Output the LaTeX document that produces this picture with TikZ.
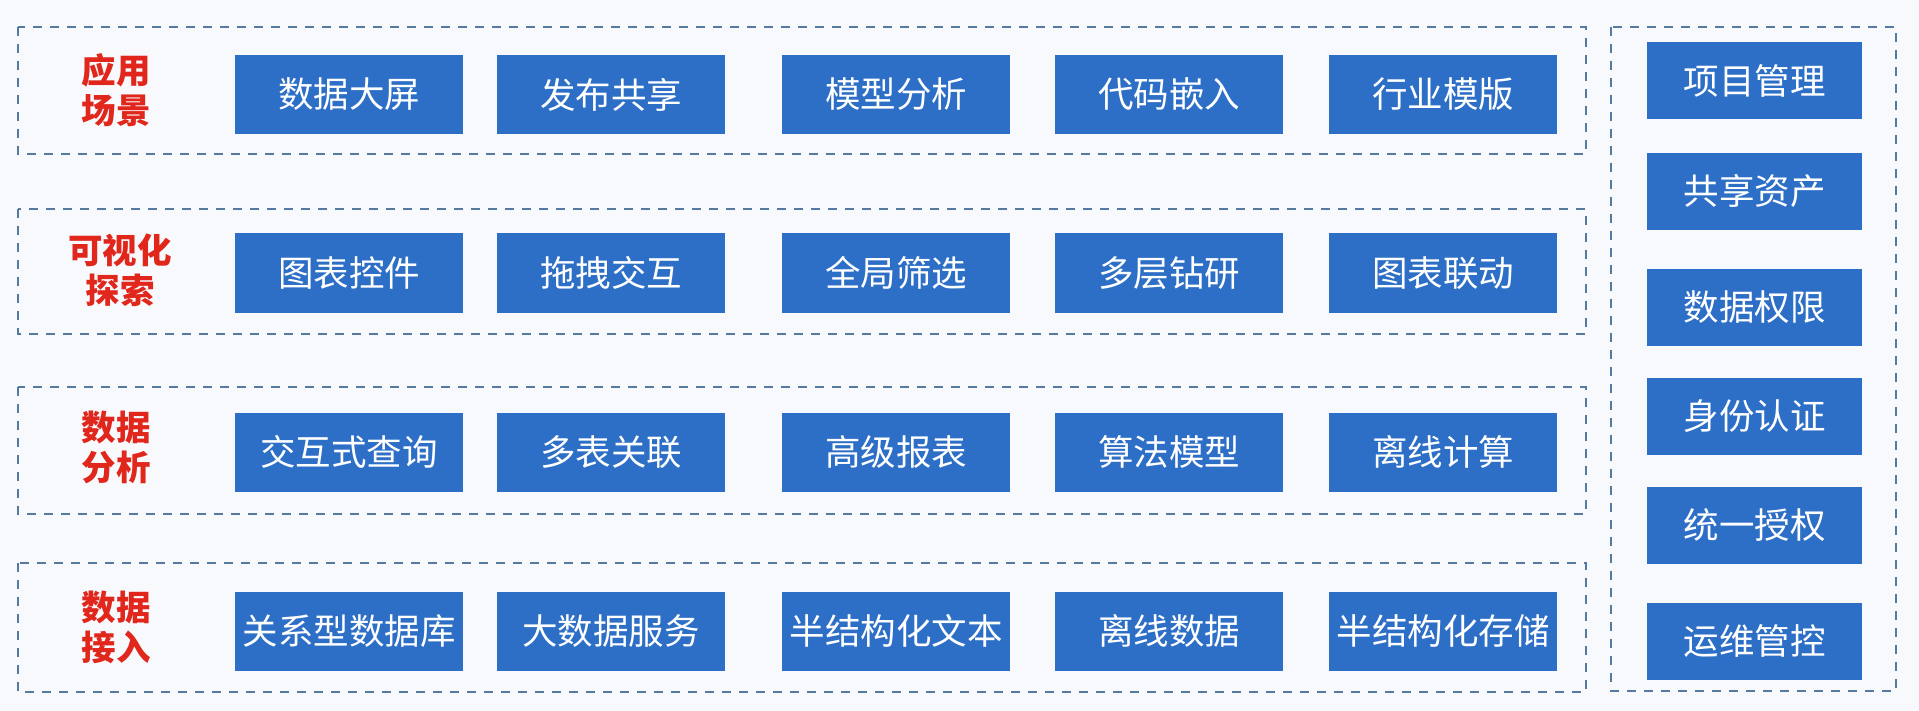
\documentclass[tikz,border=0pt]{standalone}
\usepackage{fontspec}
\newfontfamily\cjk{Noto Sans CJK SC}
\definecolor{boxblue}{HTML}{2D6FC6}
\definecolor{framegray}{HTML}{55799F}
\definecolor{labelred}{HTML}{E1261C}
\definecolor{paper}{HTML}{F7F9FC}
\tikzset{
  item/.style={fill=boxblue, text=white, minimum width=228pt, minimum height=79pt,
    inner sep=0pt, font=\cjk\fontsize{35.5}{40}\selectfont},
  frame/.style={draw=framegray, line width=1.4pt, dash pattern=on 9pt off 8pt},
  layer/.style={text=labelred, align=center, inner sep=0pt,
    font=\cjk\bfseries\fontsize{34.5}{40}\selectfont}
}

\begin{document}
\begin{tikzpicture}[x=1pt,y=-1pt]
                \fill[paper] (0,0) rectangle (1919,711); % background
                \useasboundingbox (0,0) rectangle (1919,711);

                % Layer frames
                \foreach \top/\bot in {27/154, 209/334, 387/514, 563/692}
                    \draw[frame] (18,\top) rectangle (1586,\bot);
                \draw[frame] (1611,27) rectangle (1896,691); % side panel

                % Layer labels
                \node[layer] (lab1) at (116,90) {应用\\场景};
                \node[layer] (lab2) at (120,270) {可视化\\探索};
                \node[layer] (lab3) at (116,447) {数据\\分析};
                \node[layer] (lab4) at (116,627) {数据\\接入};

                % Application row
                \foreach \t/\x [count=\c] in {数据大屏/349, 发布共享/611, 模型分析/896, 代码嵌入/1169, 行业模版/1443}
                    \node[item] (app\c) at (\x,94.5) {\t};
                % Visual exploration row
                \foreach \t/\x [count=\c] in {图表控件/349, 拖拽交互/611, 全局筛选/896, 多层钻研/1169, 图表联动/1443}
                    \node[item] (vis\c) at (\x,273) {\t};
                % Analysis row
                \foreach \t/\x [count=\c] in {交互式查询/349, 多表关联/611, 高级报表/896, 算法模型/1169, 离线计算/1443}
                    \node[item] (ana\c) at (\x,452) {\t};
                % Data access row
                \foreach \t/\x [count=\c] in {关系型数据库/349, 大数据服务/611, 半结构化文本/896, 离线数据/1169, 半结构化存储/1443}
                    \node[item] (acc\c) at (\x,631) {\t};

                % Side panel
                \foreach \t/\y [count=\k] in {项目管理/80.5, 共享资产/191.5, 数据权限/307.5, 身份认证/416, 统一授权/525, 运维管控/641}
                    \node[item, minimum width=215pt, minimum height=77pt] (side\k) at (1754.5,\y) {\t};
            \end{tikzpicture}
\end{document}
